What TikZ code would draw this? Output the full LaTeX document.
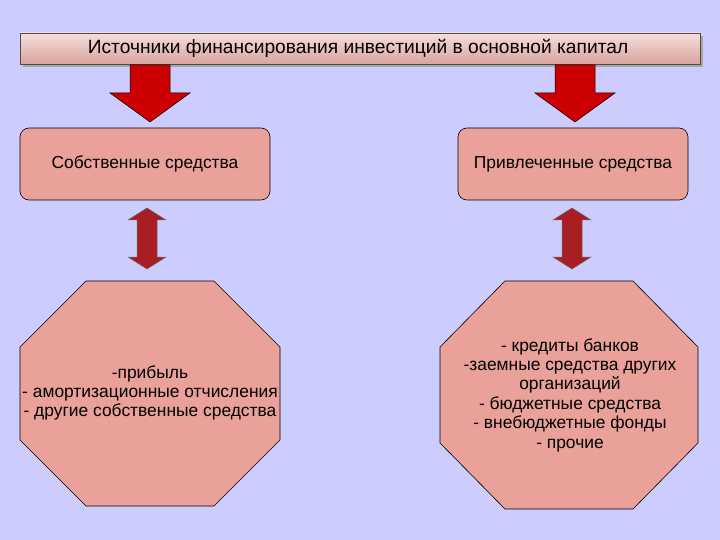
\documentclass[tikz,border=0pt]{standalone}
\usepackage{fontspec}
\setmainfont{Liberation Sans}
\begin{document}
\begin{tikzpicture}[x=1pt,y=-1pt,
  box/.style={fill=boxc,draw=black,line width=0.6pt},
  txt/.style={font=\fontsize{17.4}{19.4}\selectfont,align=center,text=black},
  dn/.style={fill=arrowc,draw=black,line width=0.5pt},
  dbl/.style={fill=dblc,draw=black!60,line width=0.5pt}]
\definecolor{bg}{HTML}{CCCCFF}
\definecolor{boxc}{HTML}{E9A19A}
\definecolor{arrowc}{HTML}{CC0000}
\definecolor{dblc}{HTML}{A81E22}
\definecolor{topa}{HTML}{F6DEDA}
\definecolor{topb}{HTML}{D8A49E}
\fill[bg] (0,0) rectangle (720,540);
\useasboundingbox (0,0) rectangle (720,540);
% title bar
\fill[gray!70] (23,36) rectangle (703,67);
\shade[top color=topa,bottom color=topb,draw=black!70] (20,33) rectangle (700,64);
\node[txt,font=\fontsize{19.2}{21}\selectfont] (title) at (358,48.5) {Источники финансирования инвестиций в основной капитал};
% down arrows
\draw[dn] (130,65) -- (170,65) -- (170,93) -- (190,93) -- (150,122) -- (110,93) -- (130,93) -- cycle;
\draw[dn] (555,65) -- (595,65) -- (595,93) -- (615,93) -- (575,122) -- (535,93) -- (555,93) -- cycle;
% boxes
\draw[box,rounded corners=9pt] (20,128) rectangle (270,200);
\node[txt] (own) at (145,164) {Собственные средства};
\draw[box,rounded corners=9pt] (458,128) rectangle (688,200);
\node[txt] (att) at (573,164) {Привлеченные средства};
% double arrows
\draw[dbl] (147,208) -- (166,220) -- (157,220) -- (157,257) -- (166,257) -- (147,269) -- (128,257) -- (137,257) -- (137,220) -- (128,220) -- cycle;
\draw[dbl] (572,208) -- (591,220) -- (582,220) -- (582,257) -- (591,257) -- (572,269) -- (553,257) -- (562,257) -- (562,220) -- (553,220) -- cycle;
% octagons
\draw[box] (86,281) -- (214,281) -- (280,347) -- (280,440) -- (214,506) -- (86,506) -- (20,440) -- (20,347) -- cycle;
\node[txt] (ol) at (150,393) {-прибыль\\- амортизационные отчисления\\- другие собственные средства};
\draw[box] (505,281) -- (633,281) -- (698,347) -- (698,443) -- (633,509) -- (505,509) -- (440,443) -- (440,347) -- cycle;
\node[txt] (or) at (570,395) {- кредиты банков\\-заемные средства других\\организаций\\- бюджетные средства\\- внебюджетные фонды\\- прочие};
\end{tikzpicture}
\end{document}
